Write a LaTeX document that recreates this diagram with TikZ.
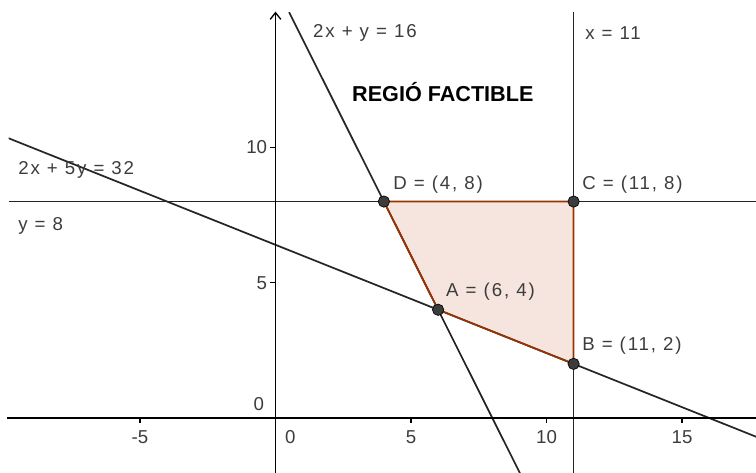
\documentclass[tikz,border=0pt]{standalone}
\usepackage{fontspec}
\setmainfont{Liberation Sans}
\newfontfamily\lblfont[LetterSpace=10]{Liberation Sans}
\usetikzlibrary{arrows.meta}
\definecolor{ggpoly}{RGB}{153,51,0}
\definecolor{ggfill}{RGB}{245,229,222}
\definecolor{ggtext}{RGB}{60,60,60}
\definecolor{ggpt}{RGB}{60,60,60}
\begin{document}
\begin{tikzpicture}[x=20.325pt,y=20.29pt,
  lbl/.style={font=\fontsize{14}{16}\lblfont, text=ggtext, inner sep=0pt, anchor=west},
  num/.style={font=\fontsize{14}{16}\selectfont, text=ggtext, inner sep=0pt},
  title/.style={font=\fontsize{16.2}{18}\selectfont\bfseries, text=black, inner sep=0pt, anchor=west},
  gline/.style={line width=1.3pt, black!85},
  axisline/.style={line width=1.4pt, black},
  tickline/.style={line width=1pt, black},
  edge/.style={line width=1.3pt, ggpoly},
  pt/.style={circle, fill=ggpt, draw=black, line width=0.5pt, inner sep=0pt, minimum size=8.5pt}]
\useasboundingbox (-10.166,-2.033) rectangle (17.73,15.45);
% vertices
\coordinate (a) at (6,4);
\coordinate (b) at (11,2);
\coordinate (c) at (11,8);
\coordinate (d) at (4,8);
% line ends
\coordinate (h1) at (-9.85,8);   \coordinate (h2) at (17.9,8);
\coordinate (v1) at (11,-2.2);   \coordinate (v2) at (11,15);
\coordinate (p1) at (0.5,15);    \coordinate (p2) at (9.1,-2.2);
\coordinate (q1) at (-9.85,10.34); \coordinate (q2) at (17.9,-0.76);
\coordinate (xa1) at (-9.91,0);  \coordinate (xa2) at (17.9,0);
\coordinate (ya1) at (0,-2.2);   \coordinate (ya2) at (0,15.02);
% region
\fill[ggfill] (a) -- (b) -- (c) -- (d) -- cycle;
\begin{scope}
\clip (-9.85,-2.2) rectangle (17.9,15.0);
\draw[gline] (h1) -- (h2);
\draw[gline] (v1) -- (v2);
\draw[gline] (p1) -- (p2);
\draw[gline] (q1) -- (q2);
\end{scope}
% axes
\draw[axisline] (xa1) -- (xa2);
\draw[axisline, -{Straight Barb[length=5pt,width=8pt,line width=1pt]}] (ya1) -- (ya2);
\foreach \t in {-5,5,10,15} {
  \coordinate (tx\t) at (\t,0);
  \draw[tickline] (tx\t) -- ++(0,-0.2);
  \node[num] at (\t,-0.72) {\t};
}
\foreach \t in {5,10} {
  \coordinate (ty\t) at (0,\t);
  \draw[tickline] (ty\t) -- ++(-0.2,0);
  \node[num, anchor=east] at (-0.3,\t) {\t};
}
\node[num] (o1) at (0.55,-0.72) {0};
\node[num] (o2) at (-0.62,0.5) {0};
% polygon edges
\draw[edge] (a) -- (b) -- (c) -- (d) -- cycle;
% points
\node[pt] (A) at (a) {};
\node[pt] (B) at (b) {};
\node[pt] (C) at (c) {};
\node[pt] (D) at (d) {};
% labels
\node[lbl] (lD) at (4.34,8.61) {D = (4, 8)};
\node[lbl] (lC) at (11.31,8.61) {C = (11, 8)};
\node[lbl] (lA) at (6.29,4.66) {A = (6, 4)};
\node[lbl] (lB) at (11.31,2.66) {B = (11, 2)};
\node[lbl] (lq) at (-9.5,9.17) {2x + 5y = 32};
\node[lbl] (lh) at (-9.5,7.1) {y = 8};
\node[lbl] (lp) at (1.38,14.23) {2x + y = 16};
\node[lbl] (lv) at (11.42,14.23) {x = 11};
\node[title] (ttl) at (2.82,12.05) {REGIÓ FACTIBLE};
\end{tikzpicture}
\end{document}
